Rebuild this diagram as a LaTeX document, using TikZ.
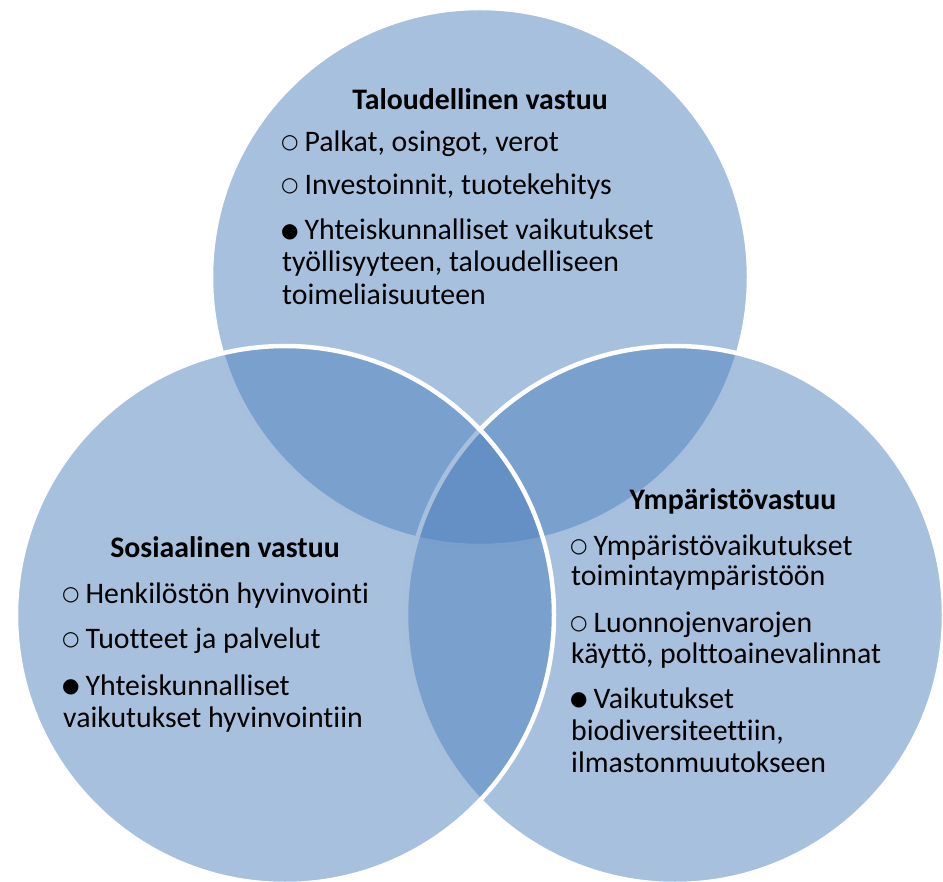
\documentclass[tikz,border=0pt]{standalone}
\usepackage{fontspec}
\setmainfont[Ligatures=CommonOff]{Carlito}
\newfontfamily\bulfont{DejaVu Sans}
\newfontfamily\bulfontb{DejaVu Sans Bold}
\definecolor{vennblue}{HTML}{4F81BD}
\newcommand{\ringb}{\raisebox{3pt}{\bulfontb\fontsize{20}{20}\selectfont ○}\hspace{6pt}}
\newcommand{\dotb}{\raisebox{2.5pt}{\bulfont\fontsize{20}{20}\selectfont ●}\hspace{6pt}}
\begin{document}
\begin{tikzpicture}[x=1pt,y=-1pt,
  venn/.style={circle, minimum size=538pt, inner sep=0pt, fill=vennblue,
    fill opacity=0.5, draw=white, line width=4.5pt},
  ttl/.style={font=\fontsize{29.8}{34}\selectfont\bfseries, anchor=base, inner sep=0pt},
  txt/.style={font=\fontsize{29.8}{34}\selectfont, anchor=base west, inner sep=0pt}]
\useasboundingbox (0,0) rectangle (943,882);
\node[venn] (top) at (480,277) {};
\node[venn] (right) at (675,615) {};
\node[venn] (left) at (285,615) {};
% top circle
\node[ttl] (tt) at (480,110) {Taloudellinen vastuu};
\node[txt] (t1) at (281,152) {\ringb Palkat, osingot, verot};
\node[txt] (t2) at (281,195) {\ringb Investoinnit, tuotekehitys};
\node[txt] (t3) at (281,240) {\dotb Yhteiskunnalliset vaikutukset};
\node[txt] (t4) at (282,272) {työllisyyteen, taloudelliseen};
\node[txt] (t5) at (282,305) {toimeliaisuuteen};
% left circle
\node[ttl] (lt) at (225,558) {Sosiaalinen vastuu};
\node[txt] (l1) at (62,603) {\ringb Henkilöstön hyvinvointi};
\node[txt] (l2) at (62,648) {\ringb Tuotteet ja palvelut};
\node[txt] (l3) at (62,695) {\dotb Yhteiskunnalliset};
\node[txt] (l4) at (63,727) {vaikutukset hyvinvointiin};
% right circle
\node[ttl] (rt) at (733,510) {Ympäristövastuu};
\node[txt] (r1) at (570,555) {\ringb Ympäristövaikutukset};
\node[txt] (r2) at (571,585) {toimintaympäristöön};
\node[txt] (r3) at (570,632) {\ringb Luonnojenvarojen};
\node[txt] (r4) at (571,663) {käyttö, polttoainevalinnat};
\node[txt] (r5) at (570,708) {\dotb Vaikutukset};
\node[txt] (r6) at (571,740) {biodiversiteettiin,};
\node[txt] (r7) at (571,772) {ilmastonmuutokseen};
\end{tikzpicture}
\end{document}
